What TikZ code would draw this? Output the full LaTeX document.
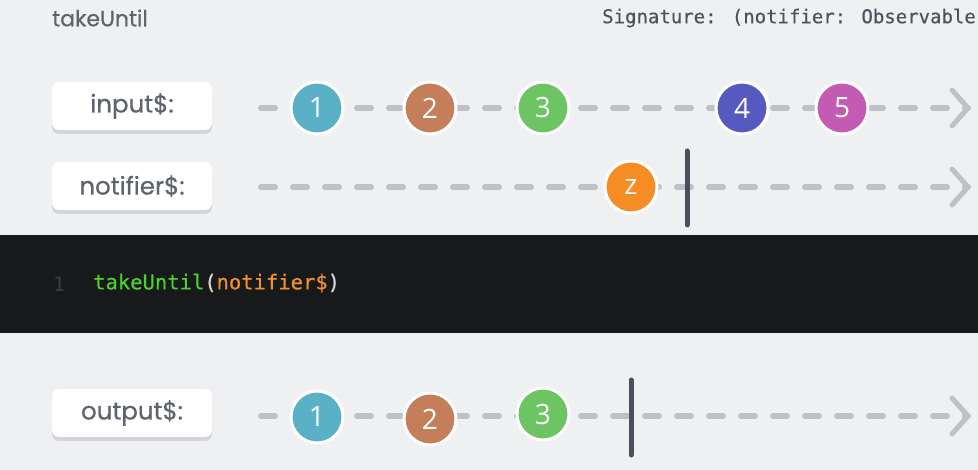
\documentclass[tikz,border=0pt]{standalone}
\usepackage{fontspec}
\usetikzlibrary{calc}
\setmainfont{Poppins}
\newfontfamily\labelfont[FakeBold=0.6]{Poppins}
\newfontfamily\marblefont{Open Sans}
\newfontfamily\codefont{DejaVu Sans Mono}
\newfontfamily\sigfont[FakeBold=0.5]{DejaVu Sans Mono}
\definecolor{bg}{HTML}{EFF0F2}
\definecolor{labeltext}{HTML}{5F636C}
\definecolor{sigtext}{HTML}{4E525C}
\definecolor{dashcol}{HTML}{BFC1C8}
\definecolor{barcol}{HTML}{4A4F5C}
\definecolor{shadowcol}{HTML}{D3D5DA}
\definecolor{codebg}{HTML}{18191B}
\definecolor{codegreen}{HTML}{4CD22E}
\definecolor{codeorange}{HTML}{F0922E}
\definecolor{codeparen}{HTML}{D8D8D8}
\definecolor{lineno}{HTML}{3C3D40}
\definecolor{mteal}{HTML}{5AB1C6}
\definecolor{mbrown}{HTML}{C57E5A}
\definecolor{mgreen}{HTML}{6CC562}
\definecolor{mindigo}{HTML}{5559C0}
\definecolor{mmagenta}{HTML}{C45BB3}
\definecolor{morange}{HTML}{F68C24}
\tikzset{
  streamline/.style={draw=dashcol, line width=6pt, line cap=round, dash pattern=on 14pt off 18pt},
  chevron/.style={draw=dashcol, line width=5pt, line cap=round, line join=round},
  marble/.style={circle, minimum size=52pt, inner sep=0pt, draw=white, line width=3pt, text=white, font=\marblefont\fontsize{28}{30}\selectfont},
  labelbox/.style={rounded corners=7pt, fill=white, minimum width=160pt, minimum height=48pt, inner sep=0pt, text=labeltext, font=\labelfont\fontsize{24.5}{28}\selectfont},
  labelshadow/.style={rounded corners=7pt, fill=shadowcol},
  endbar/.style={draw=barcol, line width=5pt, line cap=round},
}
\begin{document}
\begin{tikzpicture}[x=1pt,y=-1pt]
\useasboundingbox (0,0) rectangle (978,470);
\fill[bg] (0,0) rectangle (978,470);
\begin{scope}
\clip (0,0) rectangle (978,470);
% title and signature
\node[anchor=west, text=labeltext, font=\labelfont\fontsize{22}{24}\selectfont, inner sep=0pt] (title) at (52,18) {takeUntil};
\node[anchor=west, text=sigtext, font=\sigfont\fontsize{19}{22}\selectfont, inner sep=0pt] (sig) at (602,18) {Signature: (notifier: Observable)};

% label boxes
\fill[labelshadow] (52,86) rectangle (212,134);
\node[labelbox] (linput) at (132,106) {input\$:};
\fill[labelshadow] (52,166) rectangle (212,214);
\node[labelbox] (lnotifier) at (132,186) {notifier\$:};
\fill[labelshadow] (52,393) rectangle (212,441);
\node[labelbox] (loutput) at (132,413) {output\$:};

% input stream
\coordinate (in0) at (261,108);
\coordinate (in1) at (968,108);
\draw[streamline] (in0) -- (in1);
\draw[chevron] ($(in1)+(-16,-18)$) -- (in1) -- ($(in1)+(-16,18)$);
\node[marble, fill=mteal] (i1) at (317,108) {1};
\node[marble, fill=mbrown] (i2) at (430,108) {2};
\node[marble, fill=mgreen] (i3) at (543,108) {3};
\node[marble, fill=mindigo] (i4) at (742,108) {4};
\node[marble, fill=mmagenta] (i5) at (842,108) {5};

% notifier stream
\coordinate (no0) at (261,187);
\coordinate (no1) at (968,187);
\draw[streamline] (no0) -- (no1);
\draw[chevron] ($(no1)+(-16,-18)$) -- (no1) -- ($(no1)+(-16,18)$);
\node[marble, fill=morange] (nz) at (631,187) {z};
\coordinate (nbt) at (687,151);
\coordinate (nbb) at (687,225);
\draw[endbar] (nbt) -- (nbb);

% code band
\fill[codebg] (0,235) rectangle (978,333);
\node[anchor=west, text=lineno, font=\codefont\fontsize{20}{22}\selectfont, inner sep=0pt] (ln) at (53,284) {1};
\node[anchor=west, font=\sigfont\fontsize{20.5}{22}\selectfont, inner sep=0pt] (code) at (93,283) {\textcolor{codegreen}{takeUntil}\textcolor{codeparen}{(}\textcolor{codeorange}{notifier\$}\textcolor{codeparen}{)}};

% output stream
\coordinate (ou0) at (261,416);
\coordinate (ou1) at (968,416);
\draw[streamline] (ou0) -- (ou1);
\draw[chevron] ($(ou1)+(-16,-18)$) -- (ou1) -- ($(ou1)+(-16,18)$);
\node[marble, fill=mteal] (o1) at (317,417) {1};
\node[marble, fill=mbrown] (o2) at (430,419) {2};
\node[marble, fill=mgreen] (o3) at (543,414) {3};
\coordinate (obt) at (631,380);
\coordinate (obb) at (631,455);
\draw[endbar] (obt) -- (obb);
\end{scope}
\end{tikzpicture}
\end{document}
